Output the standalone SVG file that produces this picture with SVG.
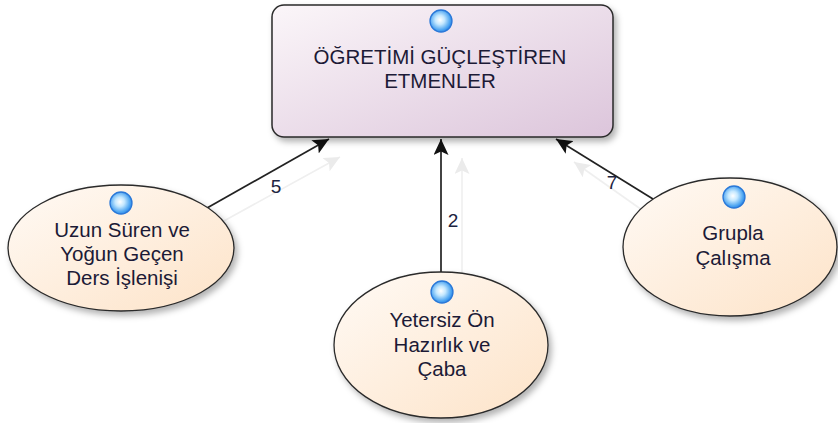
<svg xmlns="http://www.w3.org/2000/svg" width="838" height="423" viewBox="0 0 838 423">
  <defs>
    <style>
      .lbl { font-family: "Liberation Sans", Arial, sans-serif; font-size: 20.5px; fill: #1c1a36; text-anchor: middle; }
      .num { font-family: "Liberation Sans", Arial, sans-serif; font-size: 19px; fill: #1c2340; text-anchor: middle; }
      .edge { stroke: #222; stroke-width: 1.7; fill: none; }
      .ghost { stroke: #efefef; stroke-width: 1.6; fill: none; }
      .ell { fill: url(#peach); stroke: #2a2a2a; stroke-width: 1.3; }
      .ball { fill: url(#ballFill); stroke: #2a78d8; stroke-width: 1.3; }
    </style>
    <linearGradient id="lilac" x1="0" y1="0" x2="1" y2="1">
      <stop offset="0" stop-color="#fbf6f9"/>
      <stop offset="1" stop-color="#dcc5db"/>
    </linearGradient>
    <linearGradient id="peach" x1="0" y1="0" x2="1" y2="1">
      <stop offset="0" stop-color="#fffaf5"/>
      <stop offset="1" stop-color="#fde3c8"/>
    </linearGradient>
    <radialGradient id="ballFill" cx="0.45" cy="0.45" r="0.6">
      <stop offset="0" stop-color="#ffffff"/>
      <stop offset="0.35" stop-color="#c4e8ff"/>
      <stop offset="0.8" stop-color="#45a0f0"/>
      <stop offset="1" stop-color="#2676de"/>
    </radialGradient>
    <filter id="shadow" x="-10%" y="-10%" width="125%" height="130%">
      <feDropShadow dx="3" dy="4" stdDeviation="3" flood-color="#000" flood-opacity="0.3"/>
    </filter>
    <marker id="arrow" markerUnits="userSpaceOnUse" markerWidth="17" markerHeight="15" refX="16" refY="7.5" orient="auto">
      <path d="M0,0 L16,7.5 L0,15 L3.5,7.5 z" fill="#111"/>
    </marker>
    <marker id="arrowGhost" markerUnits="userSpaceOnUse" markerWidth="17" markerHeight="15" refX="16" refY="7.5" orient="auto">
      <path d="M0,0 L16,7.5 L0,15 L3.5,7.5 z" fill="#ebebeb"/>
    </marker>
  </defs>

  <!-- connectors -->
  <g id="connectors">
    <line class="ghost" x1="222" y1="222" x2="340" y2="157" marker-end="url(#arrowGhost)"/>
    <line class="ghost" x1="462" y1="272" x2="462" y2="158" marker-end="url(#arrowGhost)"/>
    <line class="ghost" x1="642" y1="210" x2="574" y2="162" marker-end="url(#arrowGhost)"/>
    <line class="edge" x1="207" y1="208" x2="329" y2="139" marker-end="url(#arrow)"/>
    <line class="edge" x1="441" y1="272" x2="441" y2="139" marker-end="url(#arrow)"/>
    <line class="edge" x1="653" y1="199" x2="556" y2="139" marker-end="url(#arrow)"/>
    <text class="num" x="276" y="193">5</text>
    <text class="num" x="453" y="227">2</text>
    <text class="num" x="612" y="189">7</text>
  </g>

  <!-- central node -->
  <g id="node-etmenler">
    <rect x="272" y="5" width="341" height="132" rx="12" fill="url(#lilac)" stroke="#2a2a2a" stroke-width="1.5" filter="url(#shadow)"/>
    <circle class="ball" cx="441" cy="21" r="11"/>
    <text class="lbl" x="440" y="64">ÖĞRETİMİ GÜÇLEŞTİREN</text>
    <text class="lbl" x="440" y="88">ETMENLER</text>
  </g>

  <g id="node-uzun">
    <ellipse class="ell" cx="121" cy="248" rx="113" ry="63" filter="url(#shadow)"/>
    <circle class="ball" cx="121" cy="203" r="11"/>
    <text class="lbl" x="122" y="237">Uzun Süren ve</text>
    <text class="lbl" x="122" y="261">Yoğun Geçen</text>
    <text class="lbl" x="122" y="285">Ders İşlenişi</text>
  </g>

  <g id="node-yetersiz">
    <ellipse class="ell" cx="441" cy="345" rx="107" ry="73" filter="url(#shadow)"/>
    <circle class="ball" cx="442" cy="292" r="11"/>
    <text class="lbl" x="442" y="327">Yetersiz Ön</text>
    <text class="lbl" x="442" y="352">Hazırlık ve</text>
    <text class="lbl" x="442" y="376">Çaba</text>
  </g>

  <g id="node-grupla">
    <ellipse class="ell" cx="730" cy="247" rx="107" ry="69" filter="url(#shadow)"/>
    <circle class="ball" cx="734" cy="197" r="11"/>
    <text class="lbl" x="733" y="240">Grupla</text>
    <text class="lbl" x="733" y="265">Çalışma</text>
  </g>
</svg>
